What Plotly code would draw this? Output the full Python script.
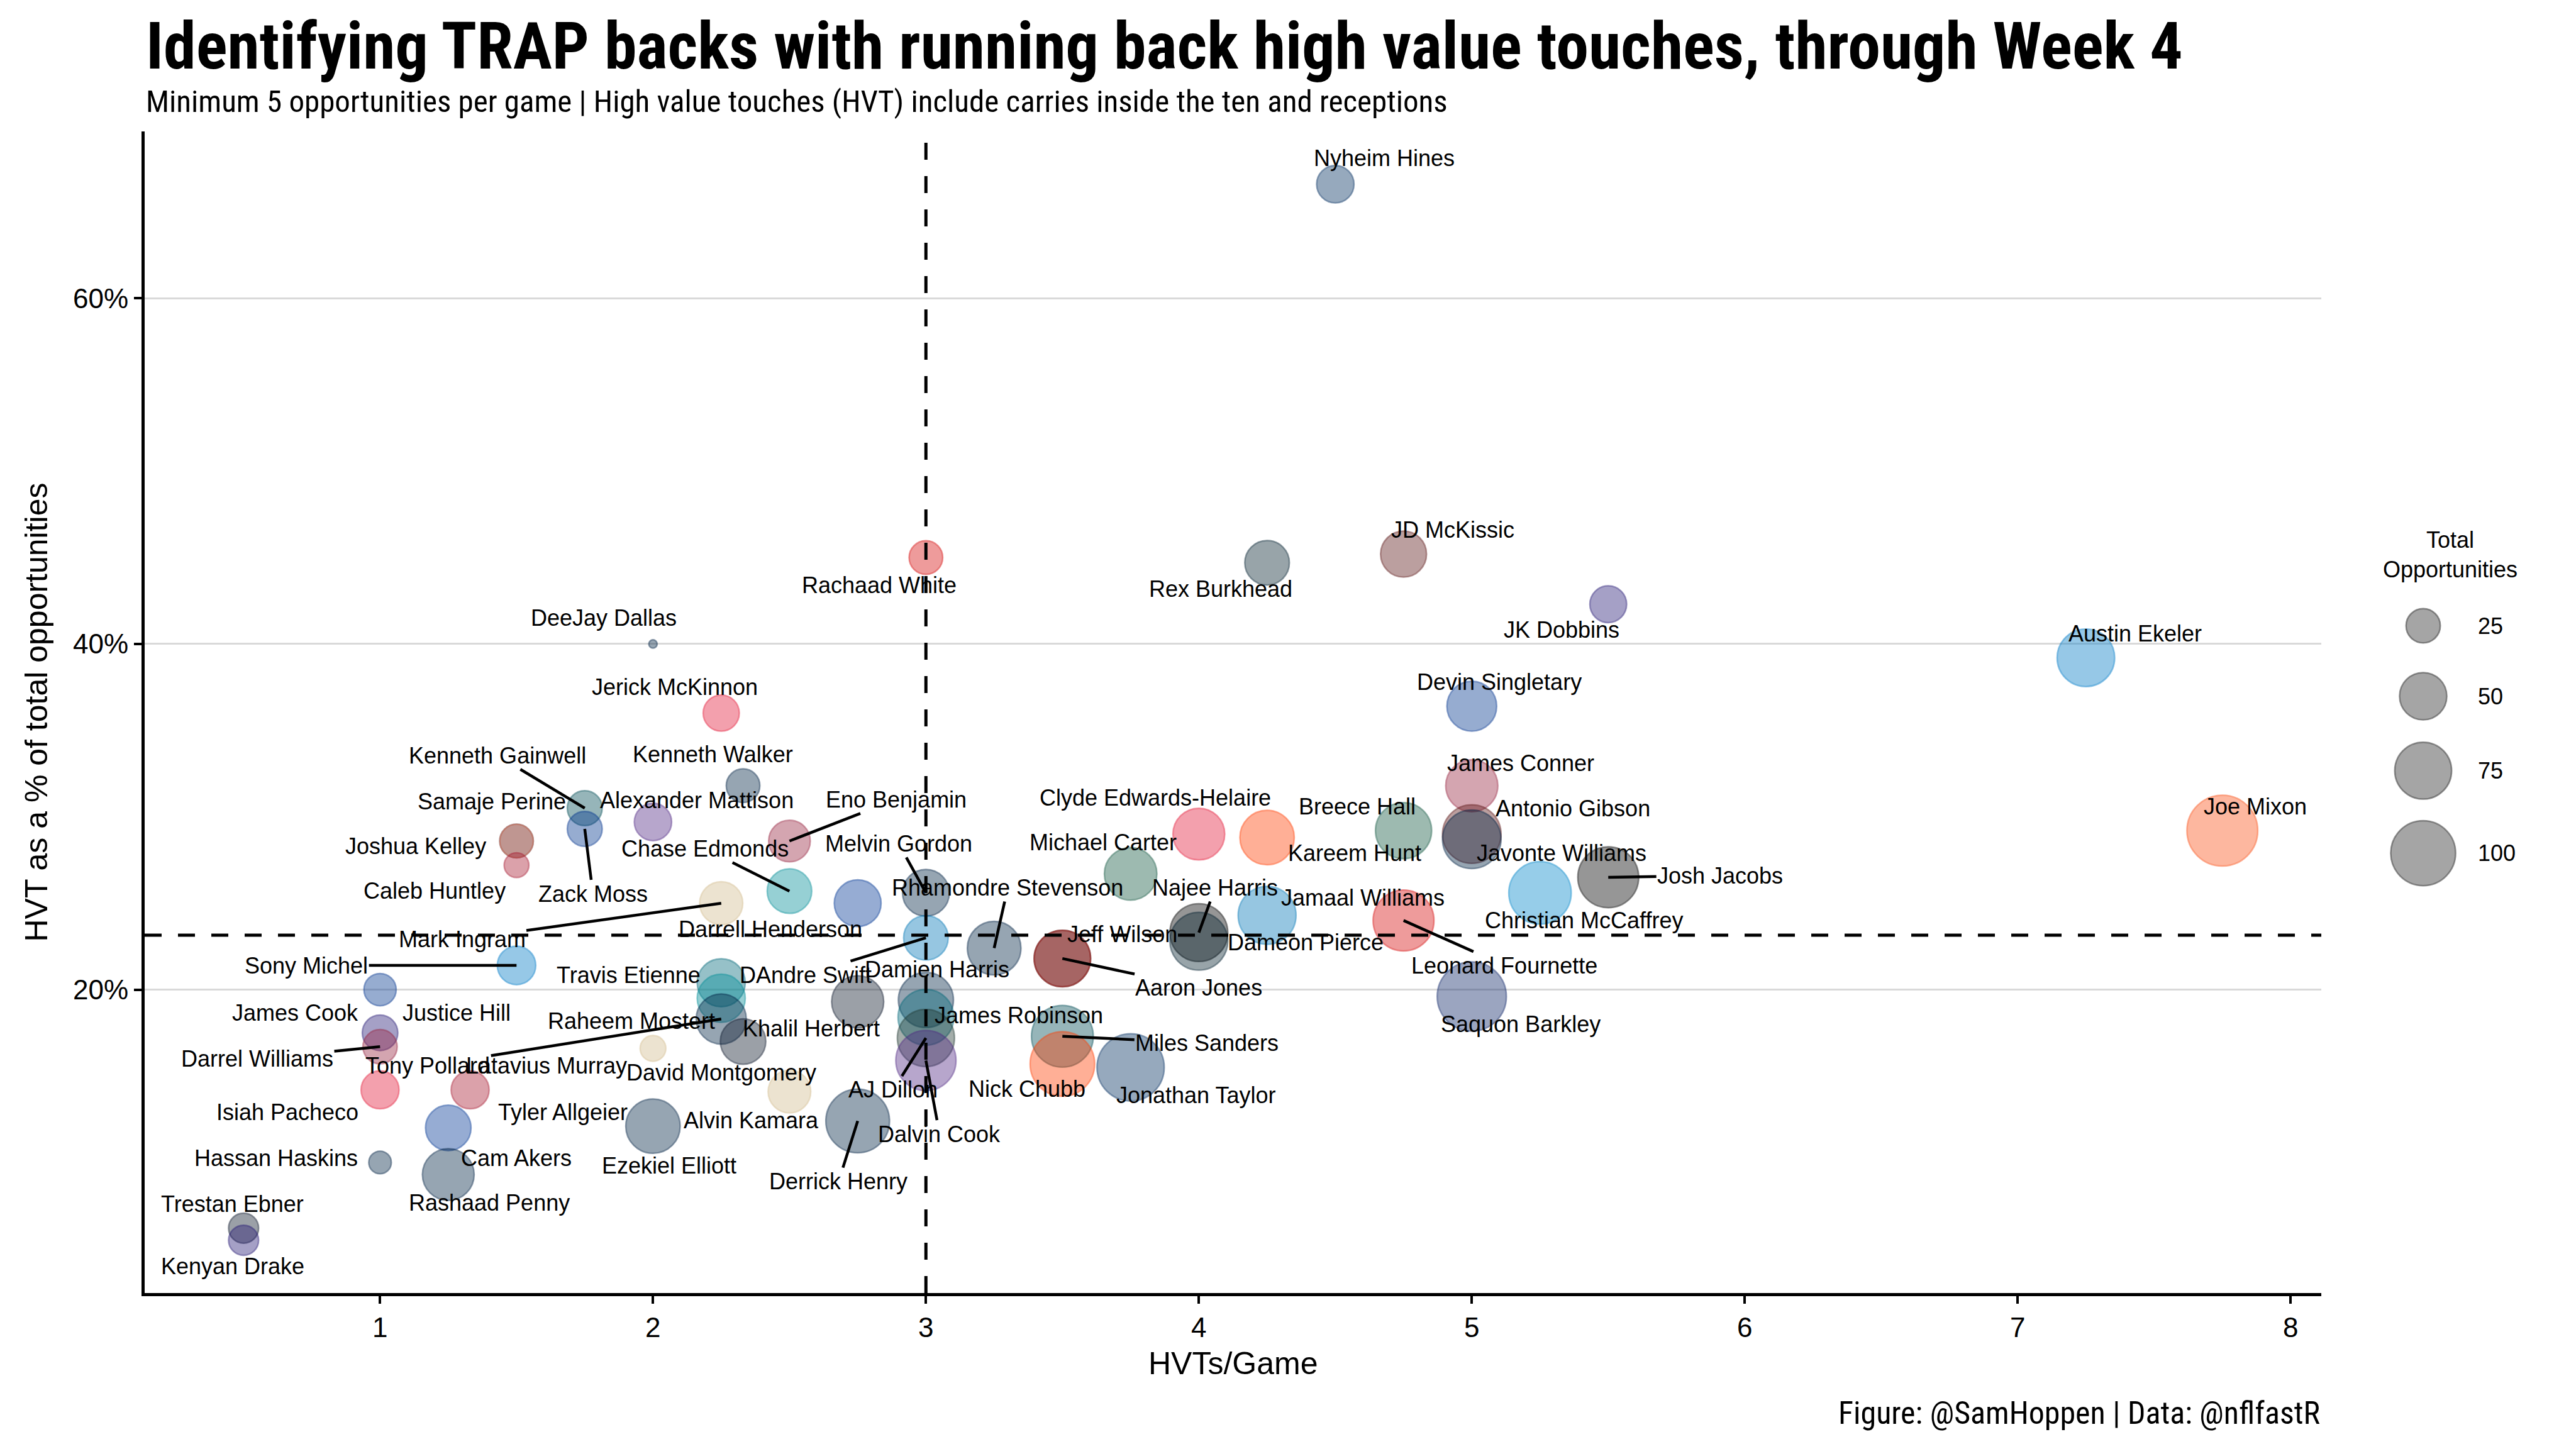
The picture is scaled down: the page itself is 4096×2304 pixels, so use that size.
import math
import plotly.graph_objects as go

# ======================= DATA =======================
players = [
    "Nyheim Hines", "Rachaad White", "Rex Burkhead", "JD McKissic", "JK Dobbins",
    "DeeJay Dallas", "Austin Ekeler", "Jerick McKinnon", "Devin Singletary", "Kenneth Walker",
    "James Conner", "Kenneth Gainwell", "Zack Moss", "Alexander Mattison", "Joshua Kelley",
    "Samaje Perine", "Caleb Huntley", "Eno Benjamin", "Chase Edmonds", "Mark Ingram",
    "Darrell Henderson", "Melvin Gordon", "DAndre Swift", "Rhamondre Stevenson", "Aaron Jones",
    "Jeff Wilson", "Najee Harris", "Dameon Pierce", "Michael Carter", "Clyde Edwards-Helaire",
    "Kareem Hunt", "Breece Hall", "Antonio Gibson", "Javonte Williams", "Jamaal Williams",
    "Leonard Fournette", "Christian McCaffrey", "Josh Jacobs", "Joe Mixon", "Saquon Barkley",
    "Sony Michel", "James Cook", "Justice Hill", "Darrel Williams", "Isiah Pacheco",
    "Tyler Allgeier", "Hassan Haskins", "Cam Akers", "Rashaad Penny", "Trestan Ebner",
    "Kenyan Drake", "Travis Etienne", "Raheem Mostert", "Tony Pollard", "Khalil Herbert",
    "Latavius Murray", "Alvin Kamara", "Ezekiel Elliott", "David Montgomery", "Derrick Henry",
    "Damien Harris", "James Robinson", "AJ Dillon", "Dalvin Cook", "Miles Sanders",
    "Nick Chubb", "Jonathan Taylor",
]
teams = [
    "IND", "TB", "HOU", "WAS", "BAL",
    "SEA", "LAC", "KC", "BUF", "SEA",
    "ARI", "PHI", "BUF", "MIN", "LAC",
    "CIN", "ATL", "ARI", "MIA", "NO",
    "LA", "DEN", "DET", "NE", "GB",
    "SF", "PIT", "HOU", "NYJ", "KC",
    "CLE", "NYJ", "WAS", "DEN", "DET",
    "TB", "CAR", "LV", "CIN", "NYG",
    "LAC", "BUF", "BAL", "ARI", "KC",
    "ATL", "TEN", "LA", "SEA", "CHI",
    "BAL", "JAX", "MIA", "DAL", "CHI",
    "NO", "NO", "DAL", "CHI", "TEN",
    "NE", "JAX", "GB", "MIN", "PHI",
    "CLE", "IND",
]
hvt_per_game = [
    4.5, 3.0, 4.25, 4.75, 5.5,
    2.0, 7.25, 2.25, 5.0, 2.33,
    5.0, 1.75, 1.75, 2.0, 1.5,
    1.5, 1.5, 2.5, 2.5, 2.25,
    2.75, 3.0, 3.0, 3.25, 3.5,
    3.5, 4.0, 4.0, 3.75, 4.0,
    4.25, 4.75, 5.0, 5.0, 4.25,
    4.75, 5.25, 5.5, 7.75, 5.0,
    1.5, 1.0, 1.0, 1.0, 1.0,
    1.33, 1.0, 1.25, 1.25, 0.5,
    0.5, 2.25, 2.25, 2.25, 2.33,
    2.0, 2.5, 2.0, 2.75, 2.75,
    3.0, 3.0, 3.0, 3.0, 3.5,
    3.5, 3.75,
]
hvt_pct = [  # HVT as % of total opportunities
    66.6, 45.0, 44.7, 45.2, 42.3,
    40.0, 39.2, 36.0, 36.4, 31.8,
    31.8, 30.5, 29.3, 29.7, 28.6,
    28.6, 27.2, 28.6, 25.7, 25.0,
    25.0, 25.6, 23.0, 22.4, 21.8,
    21.8, 23.3, 22.8, 26.7, 29.0,
    28.8, 29.2, 29.0, 28.7, 24.3,
    24.0, 25.6, 26.5, 29.2, 19.6,
    21.4, 20.0, 17.5, 16.7, 14.2,
    14.2, 10.0, 12.0, 9.3, 6.2,
    5.5, 20.4, 19.5, 18.3, 17.0,
    16.6, 14.1, 12.1, 19.3, 12.4,
    19.4, 18.4, 17.2, 15.9, 17.3,
    15.7, 15.5,
]
total_opps = [
    30, 24, 44, 47, 29,
    5, 77, 28, 56, 24,
    62, 26, 26, 30, 24,
    24, 13, 38, 44, 41,
    49, 49, 44, 66, 74,
    74, 78, 78, 63, 61,
    68, 73, 80, 80, 78,
    87, 92, 87, 121, 115,
    32, 22, 27, 25, 31,
    31, 11, 46, 61, 19,
    19, 52, 52, 57, 46,
    14, 40, 68, 62, 96,
    70, 72, 76, 85, 90,
    99, 108,
]
HVT_GAME_REF = 3.0
HVT_PCT_REF = 23.15
legend_values = [25, 50, 75, 100]
x_ticks = [1, 2, 3, 4, 5, 6, 7, 8]
y_ticks = [20, 40, 60]

TITLE = "Identifying TRAP backs with running back high value touches, through Week 4"
SUBTITLE = "Minimum 5 opportunities per game | High value touches (HVT) include carries inside the ten and receptions"
CAPTION = "Figure: @SamHoppen | Data: @nflfastR"
X_TITLE = "HVTs/Game"
Y_TITLE = "HVT as a % of total opportunities"
LEGEND_TITLE = "Total<br>Opportunities"

# ======================= STYLE / LAYOUT =======================
TEAM_COLORS = {
    "ARI": "#97233F", "ATL": "#A71930", "BAL": "#241773", "BUF": "#00338D", "CAR": "#0085CA",
    "CHI": "#0B162A", "CIN": "#FB4F14", "CLE": "#FF3C00", "DAL": "#002244", "DEN": "#002244",
    "DET": "#0076B6", "GB": "#203731", "HOU": "#03202F", "IND": "#002C5F", "JAX": "#006778",
    "KC": "#E31837", "LA": "#003594", "LAC": "#007BC7", "LV": "#000000", "MIA": "#008E97",
    "MIN": "#4F2683", "NE": "#002244", "NO": "#D3BC8D", "NYG": "#0B2265", "NYJ": "#125740",
    "PHI": "#004C54", "PIT": "#000000", "SEA": "#002244", "SF": "#AA0000", "TB": "#D50A0A",
    "TEN": "#002244", "WAS": "#5A1414",
}
# label placement (data coords) and whether a leader segment is drawn
LABEL_POS = {
    "Nyheim Hines": (4.68, 68.1, False), "Rachaad White": (2.83, 43.4, False),
    "Rex Burkhead": (4.08, 43.2, False), "JD McKissic": (4.93, 46.6, False),
    "JK Dobbins": (5.33, 40.8, False), "DeeJay Dallas": (1.82, 41.5, False),
    "Austin Ekeler": (7.43, 40.6, False), "Jerick McKinnon": (2.08, 37.5, False),
    "Devin Singletary": (5.10, 37.8, False), "Kenneth Walker": (2.22, 33.6, False),
    "James Conner": (5.18, 33.1, False), "Kenneth Gainwell": (1.43, 33.55, True),
    "Samaje Perine": (1.41, 30.9, False), "Alexander Mattison": (2.16, 30.95, False),
    "Eno Benjamin": (2.89, 31.0, True), "Clyde Edwards-Helaire": (3.84, 31.1, False),
    "Antonio Gibson": (5.37, 30.5, False), "Joe Mixon": (7.87, 30.6, False),
    "Breece Hall": (4.58, 30.6, False), "Joshua Kelley": (1.13, 28.3, False),
    "Chase Edmonds": (2.19, 28.15, True), "Melvin Gordon": (2.90, 28.45, True),
    "Michael Carter": (3.65, 28.5, False), "Kareem Hunt": (4.57, 27.9, False),
    "Javonte Williams": (5.33, 27.9, False), "Josh Jacobs": (5.91, 26.6, True),
    "Caleb Huntley": (1.20, 25.7, False), "Zack Moss": (1.78, 25.55, True),
    "Rhamondre Stevenson": (3.30, 25.9, True), "Najee Harris": (4.06, 25.9, True),
    "Jamaal Williams": (4.60, 25.3, False), "Christian McCaffrey": (5.41, 24.0, False),
    "Darrell Henderson": (2.43, 23.5, False), "Mark Ingram": (1.30, 22.9, True),
    "Jeff Wilson": (3.72, 23.2, False), "Dameon Pierce": (4.39, 22.75, False),
    "Leonard Fournette": (5.12, 21.4, True), "Sony Michel": (0.73, 21.4, True),
    "Travis Etienne": (1.91, 20.85, False), "DAndre Swift": (2.56, 20.85, True),
    "Damien Harris": (3.04, 21.15, False), "Aaron Jones": (4.0, 20.1, True),
    "James Cook": (0.69, 18.65, False), "Justice Hill": (1.28, 18.65, False),
    "Raheem Mostert": (1.92, 18.2, False), "Khalil Herbert": (2.58, 17.75, False),
    "James Robinson": (3.34, 18.5, False), "Miles Sanders": (4.03, 16.9, True),
    "Saquon Barkley": (5.18, 18.0, False), "Darrel Williams": (0.55, 16.0, True),
    "Tony Pollard": (1.175, 15.6, True), "Latavius Murray": (1.61, 15.6, False),
    "David Montgomery": (2.25, 15.2, False), "AJ Dillon": (2.88, 14.2, True),
    "Nick Chubb": (3.37, 14.25, False), "Jonathan Taylor": (3.99, 13.9, False),
    "Isiah Pacheco": (0.66, 12.9, False), "Tyler Allgeier": (1.67, 12.9, False),
    "Alvin Kamara": (2.36, 12.45, False), "Dalvin Cook": (3.05, 11.65, True),
    "Hassan Haskins": (0.62, 10.25, False), "Cam Akers": (1.50, 10.25, False),
    "Ezekiel Elliott": (2.06, 9.8, False), "Derrick Henry": (2.68, 8.9, True),
    "Rashaad Penny": (1.40, 7.65, False), "Trestan Ebner": (0.46, 7.6, False),
    "Kenyan Drake": (0.46, 4.0, False),
}

W, H = 4096, 2304
ML, MR, MT, MB = 230, 40, 209, 248
PW, PH = W - ML - MR, H - MT - MB
PLOT_RIGHT = 3691                   # right edge of the panel in px
X_DOMAIN_END = (PLOT_RIGHT - ML) / PW

D_MIN, D_MAX = 15.7, 115.0          # visible bubble diameters (px)
STROKE = 2.5
ALPHA = 0.58

SANS = "Liberation Sans, Arial, Helvetica, sans-serif"
COND = "Roboto Condensed, Noto Sans Condensed, Liberation Sans Narrow, DejaVu Sans Condensed, sans-serif"


def px_x(px):
    return (px - ML) / PW


def px_y(py):
    return (H - MB - py) / PH


def rgba(hexc, a):
    h = hexc.lstrip("#")
    r, g, b = int(h[0:2], 16), int(h[2:4], 16), int(h[4:6], 16)
    return f"rgba({r},{g},{b},{a})"


vmin, vmax = min(total_opps), max(total_opps)


def bubble_d(v):
    return D_MIN + (D_MAX - D_MIN) * math.sqrt(max(v - vmin, 0) / (vmax - vmin))


def expand(lo, hi, f=0.05):
    s = hi - lo
    return [lo - f * s, hi + f * s]


x_range = expand(min(hvt_per_game), max(hvt_per_game))
y_range = expand(min(hvt_pct), max(hvt_pct))

fig = go.Figure()

# main bubbles
fig.add_trace(go.Scatter(
    x=hvt_per_game, y=hvt_pct, mode="markers",
    text=players, hoverinfo="text", cliponaxis=False, showlegend=False,
    marker=dict(
        size=[bubble_d(v) - STROKE for v in total_opps],
        sizemode="diameter",
        color=[rgba(TEAM_COLORS[t], ALPHA) for t in teams],
        line=dict(color=[rgba(TEAM_COLORS[t], 0.65) for t in teams], width=STROKE),
    ),
    xaxis="x", yaxis="y",
))

# size legend drawn on a pixel-space overlay axis
LEG_X = 3853
LEG_TEXT_X = 3938
LEG_TOP = 939
KEY_MIN, KEY_PAD = 80, 32
leg_y = []
cur = LEG_TOP
for v in legend_values:
    k = max(bubble_d(v), KEY_MIN) + KEY_PAD
    leg_y.append(cur + k / 2)
    cur += k
fig.add_trace(go.Scatter(
    x=[LEG_X] * len(legend_values), y=leg_y, mode="markers",
    hoverinfo="skip", showlegend=False, cliponaxis=False,
    marker=dict(size=[bubble_d(v) - STROKE for v in legend_values],
                color="rgba(0,0,0,0.5)",
                line=dict(color="rgba(0,0,0,0.6)", width=STROKE)),
    xaxis="x2", yaxis="y2",
))

annotations = []
for v, yy in zip(legend_values, leg_y):
    annotations.append(dict(x=LEG_TEXT_X, y=yy, xref="x2", yref="y2", text=str(v),
                            showarrow=False, xanchor="left", yanchor="middle",
                            font=dict(family=SANS, size=36, color="black")))
annotations.append(dict(x=3896, y=882, xref="x2", yref="y2", text=LEGEND_TITLE,
                        showarrow=False, xanchor="center", yanchor="middle", align="center",
                        font=dict(family=SANS, size=36, color="black")))

# point labels (ggrepel-like)
for name, xv, yv in zip(players, hvt_per_game, hvt_pct):
    lx, ly, seg = LABEL_POS[name]
    if seg:
        annotations.append(dict(
            x=xv, y=yv, xref="x", yref="y", ax=lx, ay=ly, axref="x", ayref="y",
            text=name, showarrow=True, arrowhead=0, arrowwidth=4.5, arrowcolor="black",
            standoff=0, startstandoff=0,
            font=dict(family=SANS, size=36, color="black")))
    else:
        annotations.append(dict(
            x=lx, y=ly, xref="x", yref="y", text=name, showarrow=False,
            xanchor="center", yanchor="middle",
            font=dict(family=SANS, size=36, color="black")))

# titles
annotations += [
    dict(x=0, y=px_y(73), xref="paper", yref="paper", text=f"<b>{TITLE}</b>",
         showarrow=False, xanchor="left", yanchor="middle",
         font=dict(family=COND, size=104, color="black")),
    dict(x=0, y=px_y(161), xref="paper", yref="paper", text=SUBTITLE,
         showarrow=False, xanchor="left", yanchor="middle",
         font=dict(family=COND, size=49, color="black")),
    dict(x=X_DOMAIN_END, y=px_y(2247), xref="paper", yref="paper", text=CAPTION,
         showarrow=False, xanchor="right", yanchor="middle",
         font=dict(family=COND, size=50, color="black")),
    dict(x=X_DOMAIN_END / 2, y=px_y(2168), xref="paper", yref="paper", text=X_TITLE,
         showarrow=False, xanchor="center", yanchor="middle",
         font=dict(family=SANS, size=50, color="black")),
    dict(x=px_x(57), y=0.5, xref="paper", yref="paper", text=Y_TITLE, textangle=-90,
         showarrow=False, xanchor="center", yanchor="middle",
         font=dict(family=SANS, size=50, color="black")),
]

shapes = [
    dict(type="line", xref="x", yref="y domain", x0=HVT_GAME_REF, x1=HVT_GAME_REF, y0=0, y1=1,
         line=dict(color="black", width=5, dash="27px,26px"), layer="above"),
    dict(type="line", xref="x domain", yref="y", x0=0, x1=1, y0=HVT_PCT_REF, y1=HVT_PCT_REF,
         line=dict(color="black", width=5, dash="27px,26px"), layer="above"),
]

fig.update_layout(
    width=W, height=H,
    margin=dict(l=ML, r=MR, t=MT, b=MB, pad=0),
    paper_bgcolor="white", plot_bgcolor="rgba(0,0,0,0)",
    showlegend=False,
    annotations=annotations, shapes=shapes,
    xaxis=dict(domain=[0, X_DOMAIN_END], range=x_range, tickmode="array",
               tickvals=x_ticks, ticktext=[str(v) for v in x_ticks],
               showgrid=False, zeroline=False, showline=True, linecolor="black", linewidth=5,
               ticks="outside", ticklen=12, tickwidth=4, tickcolor="black",
               tickfont=dict(family=SANS, size=44, color="black"), anchor="y"),
    yaxis=dict(domain=[0, 1], range=y_range, tickmode="array",
               tickvals=y_ticks, ticktext=[f"{v}%" for v in y_ticks],
               showgrid=True, gridcolor="#D9D9D9", gridwidth=3, zeroline=False,
               showline=True, linecolor="black", linewidth=5,
               ticks="outside", ticklen=12, tickwidth=4, tickcolor="black",
               tickfont=dict(family=SANS, size=44, color="black"), anchor="x"),
    xaxis2=dict(domain=[0, 1], range=[ML, W - MR], visible=False, anchor="y2",
                showgrid=False, zeroline=False, fixedrange=True),
    yaxis2=dict(domain=[0, 1], range=[H - MB, MT], visible=False, anchor="x2",
                showgrid=False, zeroline=False, fixedrange=True),
)

fig.write_html("out.html")
